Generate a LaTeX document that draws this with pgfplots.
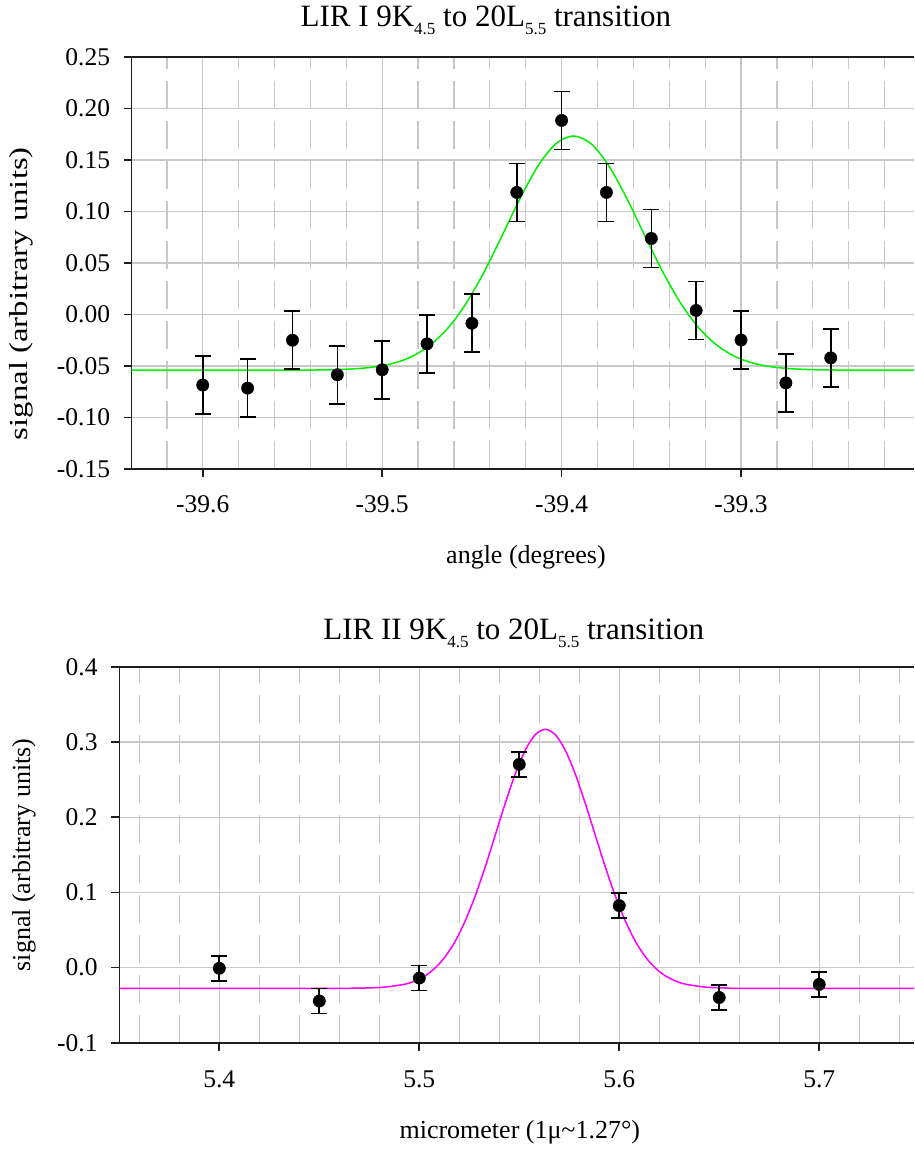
\documentclass[border=0pt]{standalone}
\usepackage{fontspec}
\setmainfont{Liberation Serif}
\usepackage{graphicx}
\usepackage{pgfplots}
\pgfplotsset{compat=1.18}
\definecolor{gridgray}{RGB}{200,200,200}
\definecolor{axisdark}{RGB}{30,30,30}
\definecolor{fitgreen}{RGB}{0,240,0}
\definecolor{fitmag}{RGB}{255,0,255}
\newcommand{\sub}[1]{\raisebox{-8.5pt}{\fontsize{17}{20}\selectfont #1}}

\pgfplotstableread{
x y e
-39.600 -0.0685 0.0282
-39.575 -0.0715 0.0282
-39.550 -0.0250 0.0282
-39.525 -0.0585 0.0282
-39.500 -0.0537 0.0282
-39.475 -0.0285 0.0282
-39.450 -0.0085 0.0282
-39.425  0.1185 0.0282
-39.400  0.1884 0.0282
-39.375  0.1185 0.0282
-39.350  0.0738 0.0282
-39.325  0.0039 0.0282
-39.300 -0.0248 0.0282
-39.275 -0.0664 0.0282
-39.250 -0.0421 0.0282
}\topdata

\pgfplotstableread{
x y
-39.6396 -0.0540
-39.5534 -0.0540
-39.5334 -0.0538
-39.5234 -0.0534
-39.5134 -0.0525
-39.5034 -0.0507
-39.4934 -0.0472
-39.4834 -0.0408
-39.4734 -0.0299
-39.4634 -0.0133
-39.4534  0.0103
-39.4434  0.0406
-39.4334  0.0757
-39.4234  0.1118
-39.4134  0.1435
-39.4034  0.1655
-39.3934  0.1733
-39.3834  0.1655
-39.3734  0.1435
-39.3634  0.1118
-39.3534  0.0757
-39.3434  0.0406
-39.3334  0.0103
-39.3234 -0.0133
-39.3134 -0.0299
-39.3034 -0.0408
-39.2934 -0.0472
-39.2834 -0.0507
-39.2734 -0.0525
-39.2634 -0.0534
-39.2534 -0.0538
-39.2334 -0.0540
-39.2036 -0.0540
}\topfit

\pgfplotstableread{
x y e
5.40 -0.0010 0.0165
5.45 -0.0445 0.0165
5.50 -0.0140 0.0165
5.55  0.2705 0.0165
5.60  0.0824 0.0165
5.65 -0.0399 0.0165
5.70 -0.0224 0.0165
}\botdata

\pgfplotstableread{
x y
5.3500 -0.0276
5.4530 -0.0276
5.4630 -0.0276
5.4730 -0.0272
5.4830 -0.0260
5.4930 -0.0220
5.4980 -0.0177
5.5030 -0.0109
5.5080 -0.0005
5.5130  0.0146
5.5180  0.0352
5.5230  0.0623
5.5280  0.0955
5.5330  0.1342
5.5380  0.1763
5.5430  0.2187
5.5480  0.2577
5.5530  0.2893
5.5580  0.3099
5.5630  0.3171
5.5680  0.3099
5.5730  0.2893
5.5780  0.2577
5.5830  0.2187
5.5880  0.1763
5.5930  0.1342
5.5980  0.0955
5.6030  0.0623
5.6080  0.0352
5.6130  0.0146
5.6180 -0.0005
5.6230 -0.0109
5.6280 -0.0177
5.6330 -0.0220
5.6430 -0.0260
5.6530 -0.0272
5.6630 -0.0276
5.7474 -0.0276
}\botfit

\pgfplotsset{
  common/.style={
    scale only axis,
    axis x line=box, axis y line=left,
    axis line style={-, line width=1.6pt, axisdark},
    xtick pos=bottom, ytick pos=left,
    tick align=outside,
    major tick length=8pt, minor tick length=0pt,
    major tick style={line width=1.6pt, axisdark},
    minor tick style={draw=none},
    xmajorgrids, ymajorgrids, xminorgrids,
    major grid style={gridgray, line width=1.3pt},
    minor grid style={gridgray, line width=1.3pt, dash pattern=on 28pt off 12pt},
    tick label style={font=\fontsize{25.5}{30}\selectfont},
    yticklabel style={anchor=east, inner sep=0pt, xshift=-13.5pt},
    xticklabel style={anchor=base, inner sep=0pt, yshift=-35.5pt},
    label style={font=\fontsize{26}{31}\selectfont},
    title style={font=\fontsize{31}{36}\selectfont, anchor=base, yshift=-6pt},
    clip=true,
  },
}

\begin{document}
\begin{tikzpicture}
\useasboundingbox (0,0) rectangle (914pt,1149pt);
\begin{axis}[common,
  at={(131.7pt,680pt)}, anchor=south west,
  width=782.3pt, height=412pt,
  xmin=-39.6396, xmax=-39.2036, ymin=-0.15, ymax=0.25,
  xtick={-39.6,-39.5,-39.4,-39.3},
  xticklabels={-39.6,-39.5,-39.4,-39.3},
  minor xtick={-39.62,-39.58,-39.56,-39.54,-39.52,-39.48,-39.46,-39.44,-39.42,-39.38,-39.36,-39.34,-39.32,-39.28,-39.26,-39.24,-39.22},
  ytick={-0.15,-0.10,-0.05,0,0.05,0.10,0.15,0.20,0.25},
  yticklabels={-0.15,-0.10,-0.05,0.00,0.05,0.10,0.15,0.20,0.25},
  title={LIR I 9K\sub{4.5} to 20L\sub{5.5} transition},
  title style={at={(axis description cs:0.4527,1.0752)}},
  xlabel={angle (degrees)},
  xlabel style={at={(axis description cs:0.504,-0.2282)}, anchor=base},
  ylabel={\scalebox{1.26}[1]{signal (arbitrary units)}},
  ylabel style={at={(axis description cs:-0.1409,0.4255)}, anchor=center},
]
\addplot[fitgreen, line width=1.5pt, smooth] table[x=x,y=y] {\topfit};
\addplot[only marks, mark=*, mark size=6.2pt, black, mark options={fill=black, draw=black},
    error bars/.cd, y dir=both, y explicit,
    error bar style={line width=1.6pt, black},
    error mark options={rotate=90, line width=1.6pt, mark size=8pt, black}]
    table[x=x,y=y,y error=e] {\topdata};
\end{axis}

\begin{axis}[common,
  at={(119.3pt,106.3pt)}, anchor=south west,
  width=794.7pt, height=375.7pt,
  xmin=5.35, xmax=5.7474, ymin=-0.1, ymax=0.4,
  xtick={5.4,5.5,5.6,5.7},
  xticklabels={5.4,5.5,5.6,5.7},
  minor xtick={5.36,5.38,5.42,5.44,5.46,5.48,5.52,5.54,5.56,5.58,5.62,5.64,5.66,5.68,5.72,5.74},
  ytick={-0.1,0,0.1,0.2,0.3,0.4},
  yticklabels={-0.1,0.0,0.1,0.2,0.3,0.4},
  xticklabel style={yshift=-1.5pt},
  title={LIR II 9K\sub{4.5} to 20L\sub{5.5} transition},
  title style={at={(axis description cs:0.4964,1.0737)}},
  xlabel={micrometer (1μ\textasciitilde 1.27°)},
  xlabel style={at={(axis description cs:0.504,-0.2563)}, anchor=base},
  ylabel={signal (arbitrary units)},
  ylabel style={at={(axis description cs:-0.1199,0.4996)}, anchor=center},
]
\addplot[fitmag, line width=1.5pt, smooth] table[x=x,y=y] {\botfit};
\addplot[only marks, mark=*, mark size=6.2pt, black, mark options={fill=black, draw=black},
    error bars/.cd, y dir=both, y explicit,
    error bar style={line width=1.6pt, black},
    error mark options={rotate=90, line width=1.6pt, mark size=8pt, black}]
    table[x=x,y=y,y error=e] {\botdata};
\end{axis}
\end{tikzpicture}
\end{document}
